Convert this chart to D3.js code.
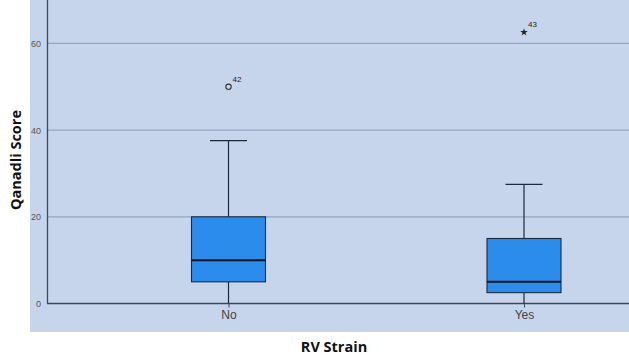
<!DOCTYPE html>
<html>
<head>
<meta charset="utf-8">
<script src="https://cdn.jsdelivr.net/npm/d3@7"></script>
<style>
body { margin: 0; background: #fff; }
svg text { font-family: "Open Sans", "Liberation Sans", sans-serif; }
</style>
</head>
<body>
<svg id="chart" width="629" height="359"></svg>
<script>
// data
var groups = ["No", "Yes"];
var whiskerLow = [0, 0];
var q1 = [5, 2.5];
var medians = [10, 5];
var q3 = [20, 15];
var whiskerHigh = [37.6, 27.5];
var outlierVals = [50, 62.6];
var outlierCase = ["42", "43"];
var outlierKind = ["circle", "star"];
var yTicks = [0, 20, 40, 60];

var width = 629, height = 359;
var chart = d3.select("#chart");

var y = d3.scaleLinear().domain([0, 70]).range([303.5, 0.1]);
var x = d3.scalePoint().domain(groups).range([228.5, 524]);
var boxW = 74, capW = 37;

// outer panel
chart.append("rect")
	.attr("x", 30).attr("y", 0)
	.attr("width", width - 30).attr("height", 332)
	.attr("fill", "#c7d5ec");

var gridLayer = chart.append("g");
gridLayer.selectAll(".grid")
	.data(yTicks.filter(function(d) { return d > 0; }))
	.enter().append("line")
	.attr("x1", 47).attr("x2", width)
	.attr("y1", y).attr("y2", y)
	.attr("stroke", "#98a3c0")
	.attr("stroke-width", 1.2);

// axes
var yAxis = chart.append("g")
	.attr("transform", "translate(47,0)")
	.call(d3.axisLeft(y).tickValues(yTicks).tickSize(0).tickPadding(6));
yAxis.select(".domain").remove();
yAxis.selectAll("text")
	.attr("font-size", 9)
	.attr("fill", "#555")
	.style("font-family", "Arial, Liberation Sans, sans-serif");

chart.append("line")
	.attr("x1", 47.5).attr("x2", 47.5)
	.attr("y1", 0).attr("y2", y(0))
	.attr("stroke", "#3e4a5c").attr("stroke-width", 1.3);

var xAxis = chart.append("g")
	.attr("transform", "translate(0," + y(0) + ")")
	.call(d3.axisBottom(x).tickSize(4).tickPadding(3));
xAxis.select(".domain").remove();
xAxis.selectAll("line").attr("stroke", "#3e4a5c");
xAxis.selectAll("text")
	.attr("font-size", 12)
	.attr("fill", "#444")
	.style("font-family", "Arial, Liberation Sans, sans-serif");

chart.append("line")
	.attr("x1", 47).attr("x2", width)
	.attr("y1", y(0)).attr("y2", y(0))
	.attr("stroke", "#3e4a5c").attr("stroke-width", 1.3);

// boxes
var boxLayer = chart.append("g");
var stroke = "#1c2a3c";
groups.forEach(function(g, i) {
	var cx = x(g);
	boxLayer.append("line")
		.attr("x1", cx).attr("x2", cx)
		.attr("y1", y(whiskerHigh[i])).attr("y2", y(q3[i]))
		.attr("stroke", stroke).attr("stroke-width", 1.2);
	boxLayer.append("line")
		.attr("x1", cx).attr("x2", cx)
		.attr("y1", y(q1[i])).attr("y2", y(whiskerLow[i]))
		.attr("stroke", stroke).attr("stroke-width", 1.2);
	boxLayer.append("line")
		.attr("x1", cx - capW / 2).attr("x2", cx + capW / 2)
		.attr("y1", y(whiskerHigh[i])).attr("y2", y(whiskerHigh[i]))
		.attr("stroke", stroke).attr("stroke-width", 1.2);
	boxLayer.append("rect")
		.attr("x", cx - boxW / 2).attr("width", boxW)
		.attr("y", y(q3[i])).attr("height", y(q1[i]) - y(q3[i]))
		.attr("fill", "#2b8ceb")
		.attr("stroke", stroke).attr("stroke-width", 1.1);
	boxLayer.append("line")
		.attr("x1", cx - boxW / 2).attr("x2", cx + boxW / 2)
		.attr("y1", y(medians[i])).attr("y2", y(medians[i]))
		.attr("stroke", "#0d1626").attr("stroke-width", 2);

	// outlier
	var oy = y(outlierVals[i]);
	if (outlierKind[i] == "circle") {
		boxLayer.append("circle")
			.attr("cx", cx).attr("cy", oy).attr("r", 2.7)
			.attr("fill", "none").attr("stroke", "#333").attr("stroke-width", 1.1);
	} else {
		boxLayer.append("path")
			.attr("d", d3.symbol().type(d3.symbolStar).size(18)())
			.attr("transform", "translate(" + cx + "," + oy + ")")
			.attr("fill", "#222");
	}
	boxLayer.append("text")
		.attr("x", cx + 4).attr("y", oy - 5)
		.attr("font-size", 8)
		.attr("fill", "#222")
		.style("font-family", "Arial, Liberation Sans, sans-serif")
		.text(outlierCase[i]);
});

// titles
chart.append("text")
	.attr("x", 334).attr("y", 352)
	.attr("text-anchor", "middle")
	.attr("font-size", 14.5).attr("font-weight", "bold")
	.attr("fill", "#111")
	.text("RV Strain");

chart.append("text")
	.attr("transform", "translate(21,160) rotate(-90)")
	.attr("text-anchor", "middle")
	.attr("font-size", 14.5).attr("font-weight", "bold")
	.attr("fill", "#111")
	.text("Qanadli Score");
</script>
</body>
</html>
